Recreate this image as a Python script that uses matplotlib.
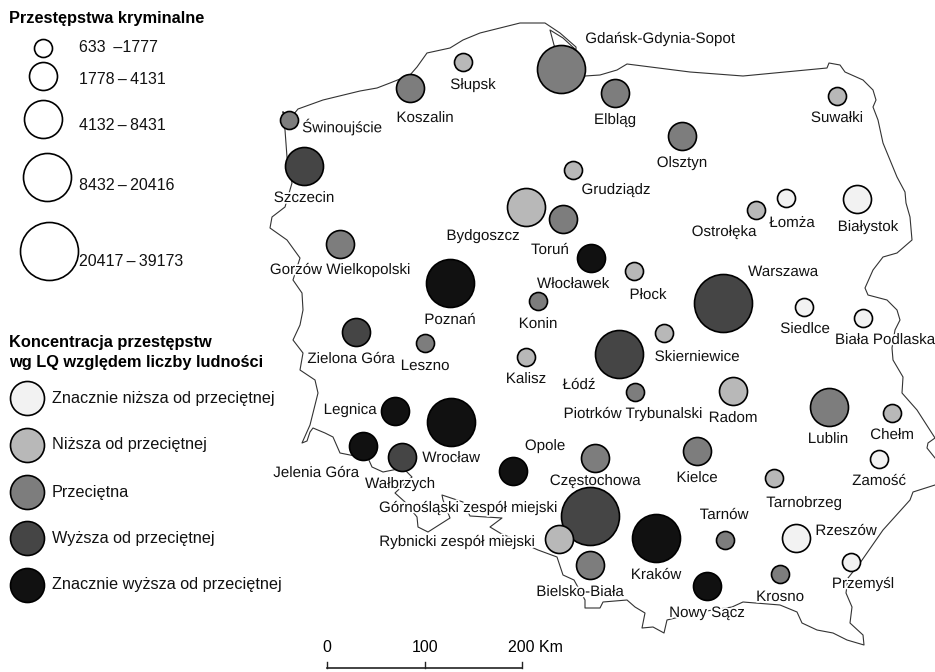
import matplotlib
matplotlib.use('Agg')
import matplotlib.pyplot as plt
import matplotlib.patheffects as pe

plt.rcParams['font.family'] = ['Liberation Sans', 'DejaVu Sans']

# cities: name, x, y (map pixels), size class, LQ class
miasta = ['Świnoujście', 'Koszalin', 'Słupsk', 'Gdańsk-Gdynia-Sopot', 'Elbląg', 'Olsztyn', 'Suwałki',
          'Szczecin', 'Gorzów Wielkopolski', 'Grudziądz', 'Bydgoszcz', 'Toruń', 'Włocławek', 'Poznań',
          'Konin', 'Płock', 'Warszawa', 'Siedlce', 'Biała Podlaska', 'Ostrołęka', 'Łomża', 'Białystok',
          'Zielona Góra', 'Leszno', 'Kalisz', 'Łódź', 'Skierniewice', 'Piotrków Trybunalski', 'Radom',
          'Lublin', 'Chełm', 'Zamość', 'Kielce', 'Tarnobrzeg', 'Tarnów', 'Rzeszów', 'Przemyśl', 'Krosno',
          'Nowy Sącz', 'Kraków', 'Legnica', 'Wrocław', 'Jelenia Góra', 'Wałbrzych', 'Opole', 'Częstochowa',
          'Górnośląski zespół miejski', 'Rybnicki zespół miejski', 'Bielsko-Biała']
mx = [289, 410, 463, 561, 615, 682, 837, 304, 340, 573, 526, 563, 591, 450, 538, 634, 723, 804, 863, 756,
      786, 857, 356, 425, 526, 619, 664, 635, 733, 829, 892, 879, 697, 774, 725, 796, 851, 780, 707, 656,
      395, 451, 363, 402, 513, 595, 590, 559, 590]
my = [120, 88, 62, 69, 93, 136, 96, 166, 244, 170, 207, 219, 258, 283, 301, 271, 303, 307, 318, 210, 198,
      199, 332, 343, 357, 354, 333, 392, 391, 407, 413, 459, 451, 478, 540, 538, 562, 574, 586, 538, 411,
      422, 446, 457, 471, 458, 516, 539, 565]
klasa_r = [0, 1, 0, 3, 1, 1, 0, 2, 1, 0, 2, 1, 1, 3, 0, 0, 4, 0, 0, 0, 0, 1, 1, 0, 0, 3, 0, 0, 1, 2, 0, 0,
           1, 0, 0, 1, 0, 0, 1, 3, 1, 3, 1, 1, 1, 1, 4, 1, 1]
klasa_lq = [2, 2, 1, 2, 2, 2, 1, 3, 2, 1, 1, 2, 4, 4, 2, 1, 3, 0, 0, 1, 0, 0, 3, 2, 1, 3, 1, 2, 1, 2, 1, 0,
            2, 1, 2, 0, 0, 2, 4, 4, 4, 4, 4, 3, 4, 2, 3, 1, 2]

# label centres
lx = [342, 425, 473, 660, 615, 682, 837, 304, 340, 616, 483, 550, 573, 450, 538, 648, 783, 805, 885, 724,
      792, 868, 351, 425, 526, 579, 697, 633, 733, 828, 892, 879, 697, 804, 724, 846, 863, 780, 707, 656,
      350, 451, 316, 400, 545, 595, 468, 457, 580]
ly = [127, 118, 85, 39, 120, 163, 118, 198, 270, 190, 236, 250, 284, 320, 324, 295, 272, 329, 340, 232,
      223, 227, 359, 366, 379, 385, 357, 414, 418, 439, 435, 481, 478, 503, 515, 531, 584, 597, 613, 575,
      410, 458, 473, 484, 446, 481, 508, 542, 592]

# polish border
gran_x = [283, 289, 298, 323, 360, 377, 390, 410, 417, 427, 450, 463, 480, 520, 545, 560, 576, 576, 563, 550,
          554, 560, 585, 600, 617, 627, 690, 743, 827, 829, 840, 845, 863, 873, 876, 873, 878, 883, 897, 905,
          906, 910, 912, 897, 883, 873, 865, 868, 887, 897, 900, 895, 892, 893, 903, 902, 917, 935, 928, 927,
          935, 940, 940, 935, 913, 910, 883, 860, 848, 846, 852, 850, 863, 864, 847, 833, 817, 802, 797, 780,
          755, 743, 732, 700, 667, 664, 653, 642, 645, 635, 627, 603, 600, 585, 585, 574, 563, 557, 538, 500,
          490, 502, 470, 463, 442, 443, 450, 428, 418, 417, 405, 395, 412, 403, 383, 372, 368, 350, 340, 333,
          325, 313, 310, 307, 302, 310, 318, 315, 300, 303, 293, 300, 303, 302, 293, 300, 287, 270, 272,
          285, 292, 287, 285, 283]
gran_y = [112, 120, 109, 100, 91, 88, 83, 75, 67, 53, 48, 40, 33, 23, 23, 33, 47, 50, 38, 30,
          45, 60, 76, 75, 70, 64, 72, 76, 68, 63, 65, 72, 80, 90, 100, 107, 120, 143, 177, 192,
          203, 217, 240, 253, 257, 270, 288, 295, 300, 310, 320, 330, 348, 360, 377, 393, 410, 438, 443, 448,
          458, 462, 482, 485, 492, 500, 530, 563, 578, 593, 607, 623, 635, 645, 640, 633, 630, 623, 612, 605,
          603, 602, 607, 612, 620, 633, 627, 628, 613, 607, 600, 602, 608, 608, 600, 580, 575, 557, 550, 533,
          527, 518, 516, 502, 495, 500, 518, 532, 527, 517, 502, 493, 477, 468, 472, 467, 458, 455, 453, 437,
          433, 428, 432, 441, 443, 425, 393, 380, 370, 353, 340, 325, 310, 293, 280, 258, 240, 228, 217,
          207, 183, 157, 130, 112]

# legend
rozmiary_r = [9, 14, 19, 24, 29]
kolory_lq = ['#f2f2f2', '#b8b8b8', '#7d7d7d', '#454545', '#111111']
zakresy = ['633 \u2009–1777', '1778\u2009–\u20094131', '4132\u2009–\u20098431', '8432\u2009–\u200920416', '20417\u2009–\u200939173']
leg_r_x = [43, 43, 43, 47, 49]
leg_r_y = [48, 76, 119, 177, 251]
leg_t_y = [48, 79, 125, 185, 261]
opisy_lq = ['Znacznie niższa od przeciętnej', 'Niższa od przeciętnej', 'Przeciętna',
            'Wyższa od przeciętnej', 'Znacznie wyższa od przeciętnej']
leg_lq_y = [398, 445, 492, 538, 585]

skala_x = [327, 425, 522]
skala_lab = ['0', '100', '200 Km']


def rozmiar(r):
    # marker area in pt^2 for radius in px
    return (2 * r * 72 / 100) ** 2


fig = plt.figure(figsize=(9.35, 6.72), dpi=100)
ax = fig.add_axes([0, 0, 1, 1])
ax.set_xlim(0, 935)
ax.set_ylim(672, 0)
ax.axis('off')

ax.plot(gran_x, gran_y, color='#333333', lw=0.8, zorder=1)

halo = [pe.withStroke(linewidth=2.5, foreground='white')]
for nazwa, x, y in zip(miasta, lx, ly):
    ax.text(x, y, nazwa, fontsize=10.9, ha='center', va='center', color='#111111', zorder=2, path_effects=halo)

for x, y, kr, kq in zip(mx, my, klasa_r, klasa_lq):
    ax.scatter(x, y, s=rozmiar(rozmiary_r[kr]), color=kolory_lq[kq], edgecolor='black', linewidth=1.2, zorder=3)

# size legend
ax.text(9, 19, 'Przestępstwa kryminalne', fontsize=11.8, fontweight='bold', va='center')
for x, y, r, ty, opis in zip(leg_r_x, leg_r_y, rozmiary_r, leg_t_y, zakresy):
    ax.scatter(x, y, s=rozmiar(r), color='white', edgecolor='black', linewidth=1.2, zorder=3)
    ax.text(79, ty, opis, fontsize=11.5, va='center', color='#111111')

# LQ legend
ax.text(9, 343, 'Koncentracja przestępstw', fontsize=11.8, fontweight='bold', va='center')
ax.text(9, 362, 'wg LQ względem liczby ludności', fontsize=11.8, fontweight='bold', va='center')
for y, kolor, opis in zip(leg_lq_y, kolory_lq, opisy_lq):
    ax.scatter(27, y, s=rozmiar(17), color=kolor, edgecolor='black', linewidth=1.2, zorder=3)
    ax.text(52, y, opis, fontsize=11.7, va='center', color='#111111')

# scale bar
ax.plot([skala_x[0], skala_x[-1]], [668, 668], color='#222222', lw=1.2)
for x in skala_x:
    ax.plot([x, x], [662, 668], color='#222222', lw=1.0)
ax.text(327, 648, skala_lab[0], fontsize=11.5, ha='center', va='center')
ax.text(425, 648, skala_lab[1], fontsize=11.5, ha='center', va='center')
ax.text(508, 648, skala_lab[2], fontsize=11.5, ha='left', va='center')

fig.savefig('out.png', dpi=100)
